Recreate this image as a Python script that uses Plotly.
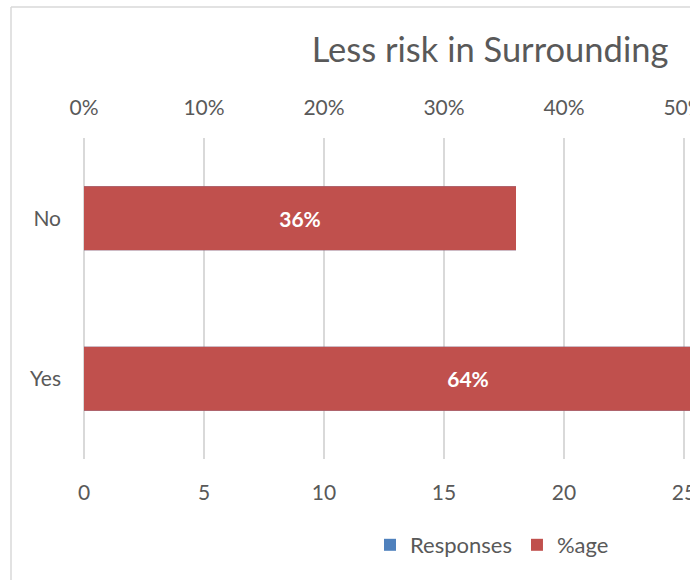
import plotly.graph_objects as go

# Survey answers and their shares
categories = ["No", "Yes"]
responses = [18, 32]
percentages = [36, 64]

resp_ticks = [0, 5, 10, 15, 20, 25]
pct_ticks = [0, 10, 20, 30, 40, 50]

TEXT = "#595959"
GRID = "#D9D9D9"
BLUE = "#4F81BD"
RED = "#C0504D"
FONT = "Lato"

fig = go.Figure()

fig.add_trace(go.Bar(
    name="Responses", y=categories, x=responses, orientation="h",
    width=0.4, marker=dict(color=BLUE, line=dict(width=0)),
    xaxis="x", yaxis="y",
))
fig.add_trace(go.Bar(
    name="%age", y=categories, x=percentages, orientation="h",
    width=0.4, marker=dict(color=RED, line=dict(width=0)),
    text=[f"{v}%" for v in percentages], textposition="inside",
    insidetextanchor="middle", textangle=0,
    textfont=dict(family=FONT, size=21, color="white", weight="bold"),
    xaxis="x2", yaxis="y",
))

L, T, B = 84, 138, 121
W, H = 690, 580
pw = W - L
ph = H - T - B

def px_x(x):
    return (x - L) / pw

def px_y(y):
    return (H - B - y) / ph

fig.update_layout(
    width=W, height=H,
    margin=dict(l=L, r=0, t=T, b=B, autoexpand=False),
    paper_bgcolor="white", plot_bgcolor="white",
    font=dict(family=FONT, color=TEXT, size=21),
    barmode="overlay",
    title=dict(text="Less risk in Surrounding", x=490 / W, xanchor="center",
               y=1 - 50 / H, yanchor="middle",
               font=dict(family=FONT, size=34.5, color=TEXT)),
    xaxis=dict(range=[0, pw / 24], tickvals=resp_ticks, ticktext=[str(v) for v in resp_ticks],
               showgrid=True, gridcolor=GRID, gridwidth=1.5,
               zeroline=True, zerolinecolor=GRID, zerolinewidth=1.5,
               showline=False, ticks="", ticklabelstandoff=19,
               ticklabeloverflow="allow", automargin=False,
               tickfont=dict(size=21, color=TEXT), fixedrange=True),
    xaxis2=dict(range=[0, pw / 12], overlaying="x", side="top",
                tickvals=pct_ticks, ticktext=[f"{v}%" for v in pct_ticks],
                showgrid=False, zeroline=False, showline=False, ticks="",
                ticklabelstandoff=18, ticklabeloverflow="allow", automargin=False,
                tickfont=dict(size=21, color=TEXT)),
    yaxis=dict(autorange="reversed", showgrid=False, zeroline=False, showline=False,
               ticks="", ticklabelstandoff=22, automargin=False,
               tickfont=dict(size=21, color=TEXT)),
    legend=dict(orientation="h", x=px_x(370), xanchor="left",
                y=px_y(545), yanchor="middle", font=dict(size=22, color=TEXT),
                bgcolor="rgba(0,0,0,0)", traceorder="normal"),
    shapes=[
        dict(type="line", xref="paper", yref="paper", x0=px_x(11), x1=px_x(W + 5),
             y0=px_y(7), y1=px_y(7), line=dict(color=GRID, width=1.5), layer="below"),
        dict(type="line", xref="paper", yref="paper", x0=px_x(11), x1=px_x(11),
             y0=px_y(7), y1=px_y(H + 5), line=dict(color=GRID, width=1.5), layer="below"),
    ],
)

fig.write_html("out.html")
